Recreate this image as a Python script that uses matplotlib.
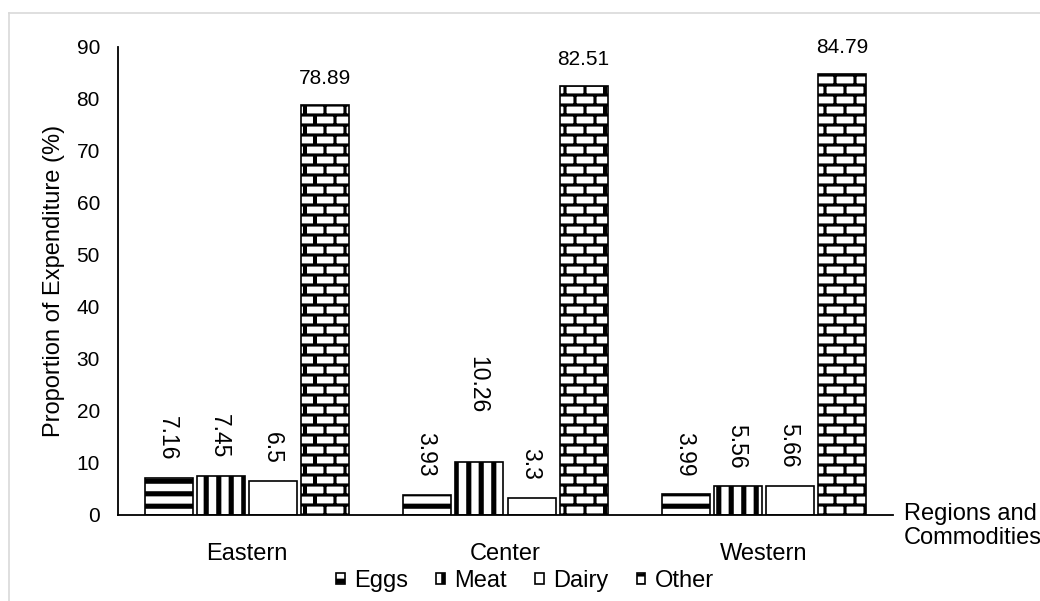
import warnings

import matplotlib
matplotlib.use('Agg')
import matplotlib.pyplot as plt
import numpy as np
from matplotlib import hatch as mhatch
from matplotlib.path import Path
from matplotlib.lines import Line2D

warnings.filterwarnings('ignore')

regions = ['Eastern', 'Center', 'Western']
eggs = [7.16, 3.93, 3.99]
meat = [7.45, 10.26, 5.56]
dairy = [6.5, 3.3, 5.66]
other = [78.89, 82.51, 84.79]
series_names = ['Eggs', 'Meat', 'Dairy', 'Other']

# extra lift (in data units) for labels that sit higher in the original
label_nudge = {('Meat', 'Center'): 6.0}


# --- custom hatch patterns (unit square, filled rectangles) ---
def _rects_to_path(rects):
    verts, codes = [], []
    for x0, y0, x1, y1 in rects:
        x0, x1 = max(x0, 0.0), min(x1, 1.0)
        y0, y1 = max(y0, 0.0), min(y1, 1.0)
        if x1 <= x0 or y1 <= y0:
            continue
        verts += [(x0, y0), (x1, y0), (x1, y1), (x0, y1), (x0, y0)]
        codes += [Path.MOVETO, Path.LINETO, Path.LINETO, Path.LINETO, Path.CLOSEPOLY]
    return np.array(verts, float), np.array(codes, Path.code_type)


def _stripes(n, t, vertical=False):
    rects = []
    for k in range(n):
        c = (k + 0.5) / n
        if vertical:
            rects.append((c - t / 2, 0, c + t / 2, 1))
        else:
            rects.append((0, c - t / 2, 1, c + t / 2))
    return rects


def _bricks(nrows, ncols, t):
    rects = []
    h = 1.0 / nrows
    w = 1.0 / ncols
    ys = [h / 2 + k * h for k in range(nrows)]
    for y in ys:
        rects.append((0, y - t / 2, 1, y + t / 2))
    for k, y in enumerate(ys):
        ytop = y + h
        shift = w / 2 if k % 2 else 0.0
        for j in range(ncols + 1):
            x = w / 4 + j * w + shift
            for dx in (0.0, -1.0):
                rects.append((x + dx - t / 2, y, x + dx + t / 2, ytop))
                if ytop > 1:
                    rects.append((x + dx - t / 2, y - 1, x + dx + t / 2, ytop - 1))
    return rects


_PATTERNS = {
    'E': _rects_to_path(_stripes(8, 0.05)),
    'M': _rects_to_path(_stripes(8, 0.05, vertical=True)),
    'B': _rects_to_path(_bricks(10, 5, 0.03)),
}


class CustomHatch(mhatch.HatchPatternBase):
    def __init__(self, hatch, density):
        self.key = None
        for k in _PATTERNS:
            if k in hatch:
                self.key = k
        self.num_vertices = len(_PATTERNS[self.key][0]) if self.key else 0

    def set_vertices_and_codes(self, vertices, codes):
        v, c = _PATTERNS[self.key]
        vertices[:] = v
        codes[:] = c


mhatch._hatch_types.append(CustomHatch)

plt.rcParams['font.family'] = ['Liberation Sans', 'DejaVu Sans']
plt.rcParams['hatch.linewidth'] = 0.1
plt.rcParams['hatch.color'] = 'black'

fig = plt.figure(figsize=(10.4, 6.01), dpi=100)
ax = fig.add_axes([118 / 1040, 1 - 515 / 601, 775 / 1040, 468 / 601])

x = np.arange(len(regions))
step = 0.2016
width = 0.186
hatches = ['E', 'M', '', 'B']
all_series = [eggs, meat, dairy, other]

for i, (vals, h, name) in enumerate(zip(all_series, hatches, series_names)):
    pos = x + (i - 1.5) * step
    ax.bar(pos, vals, width, color='white', edgecolor='black', linewidth=1.2,
           hatch=h, label=name)
    for px, v, reg in zip(pos, vals, regions):
        if v > 50:
            ax.text(px, v + 3.2, f'{v:g}', ha='center', va='bottom', fontsize=15)
        else:
            lift = 3.4 + label_nudge.get((name, reg), 0.0)
            ax.text(px - 0.005, v + lift, f'{v:g}', ha='center', va='bottom',
                    rotation=-90, fontsize=16.5)

ax.set_xlim(-0.5, 2.5)
ax.set_ylim(0, 90)
ax.set_yticks(np.arange(0, 91, 10))
ax.set_xticks(x)
ax.set_xticklabels(regions, fontsize=17)
ax.tick_params(axis='both', length=0)
ax.tick_params(axis='y', pad=13, labelsize=15)
ax.tick_params(axis='x', pad=20)
for s in ['top', 'right']:
    ax.spines[s].set_visible(False)
for s in ['left', 'bottom']:
    ax.spines[s].set_linewidth(1.3)
ax.set_ylabel('Proportion of Expenditure (%)', fontsize=17, labelpad=8)

ax.text(904 / 1040, 1 - 503 / 601, 'Regions and\nCommodities', transform=fig.transFigure,
        ha='left', va='top', fontsize=17, linespacing=1.12)

leg = fig.legend(loc='center', bbox_to_anchor=(525 / 1040, 1 - 581 / 601), ncol=4,
                 frameon=False, fontsize=17, handlelength=0.36, handleheight=0.36,
                 handletextpad=0.4, columnspacing=1.2)

# chart area border (top and left edges visible)
fig.add_artist(Line2D([8.5 / 1040, 1], [1 - 12.5 / 601, 1 - 12.5 / 601],
                      transform=fig.transFigure, color='#d9d9d9', linewidth=1.2))
fig.add_artist(Line2D([8.5 / 1040, 8.5 / 1040], [0, 1 - 12.5 / 601],
                      transform=fig.transFigure, color='#d9d9d9', linewidth=1.2))

fig.savefig('out.png', dpi=100)
